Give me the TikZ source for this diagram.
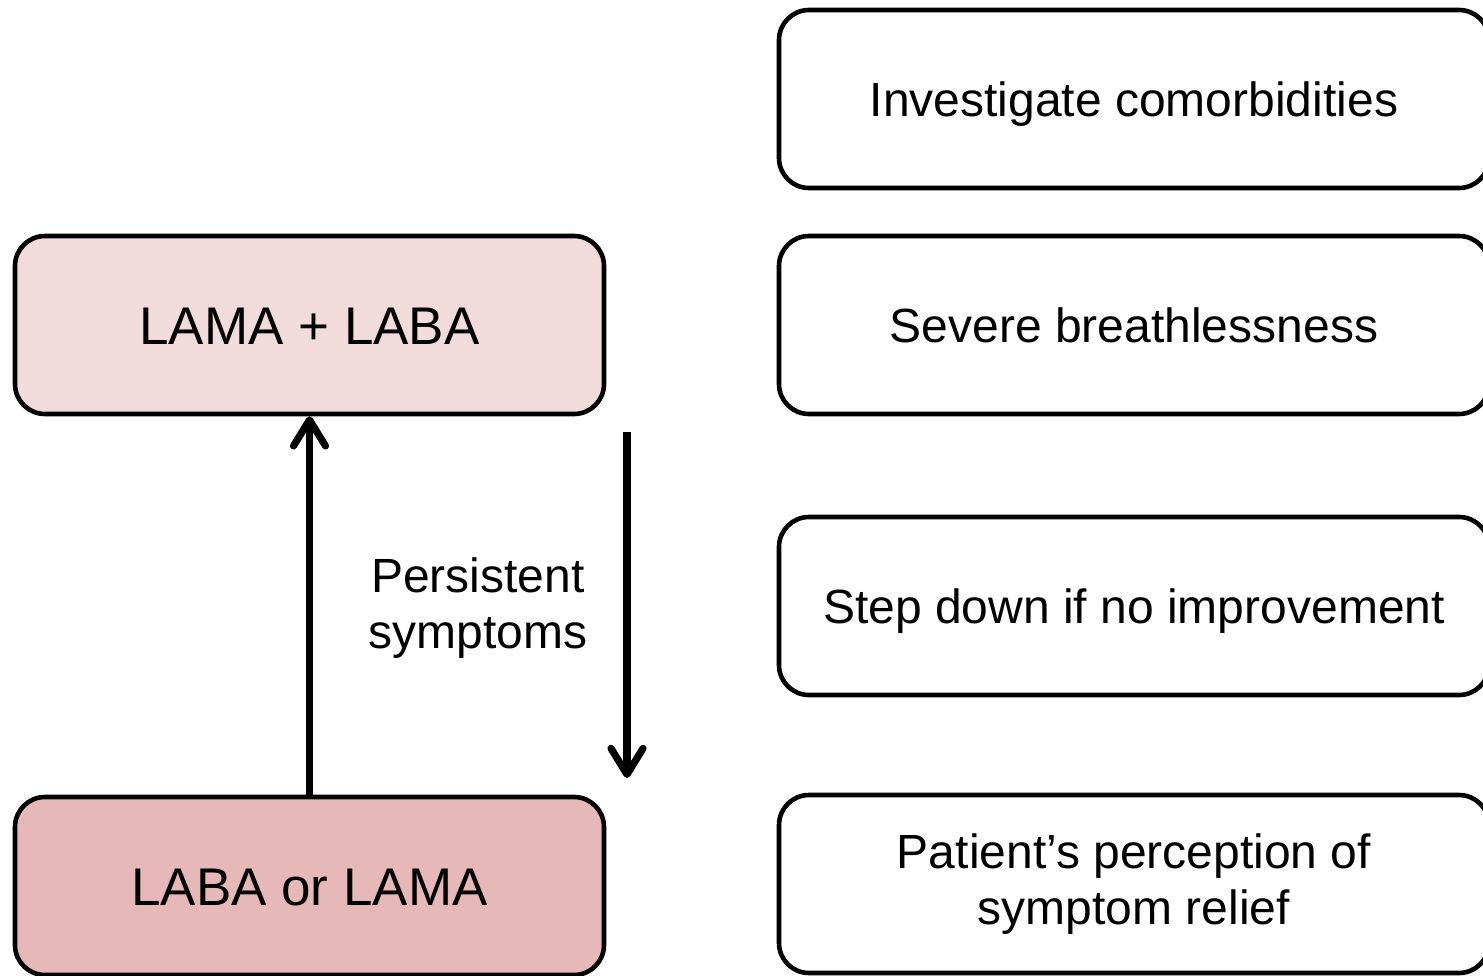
\documentclass[tikz,border=0pt]{standalone}
\usepackage{fontspec}
\setmainfont{Liberation Sans}
\usetikzlibrary{arrows.meta}
\definecolor{pinklight}{HTML}{F2DCDB}
\definecolor{pinkmid}{HTML}{E6B9B8}
\tikzset{
  leftbox/.style={draw=black, line width=2.3pt, rounded corners=15pt, minimum width=294.5pt, minimum height=89pt, inner sep=0pt, font=\fontsize{26.5pt}{31pt}\selectfont, text height=19pt, text depth=0pt},
  rightbox/.style={draw=black, line width=2.3pt, rounded corners=15pt, minimum width=355pt, minimum height=89pt, inner sep=0pt, font=\fontsize{24pt}{28pt}\selectfont, fill=white},
  oneline/.style={text height=17.2pt, text depth=0pt},
  flowarrow/.style={line width=3.6pt, -{Straight Barb[length=13pt,width=16pt,round]}},
  lbl/.style={font=\fontsize{24pt}{28pt}\selectfont, align=center, inner sep=0pt}
}
\begin{document}
\begin{tikzpicture}[x=0.5pt,y=-0.5pt]
\useasboundingbox[fill=white] (0,0) rectangle (1483,975);
\node[leftbox, fill=pinklight] (lamalaba) at (309.5,325) {LAMA + LABA};
\node[leftbox, fill=pinkmid] (labalama) at (309.5,886) {LABA or LAMA};
\node[rightbox, oneline] (inv) at (1134,99) {Investigate comorbidities};
\node[rightbox, oneline] (sev) at (1134,325) {Severe breathlessness};
\node[rightbox, oneline] (stepdn) at (1134,606) {Step down if no improvement};
\node[rightbox, align=center] (pat) at (1134,884) {Patient’s perception of\\symptom relief};
\coordinate (dtop) at (627,432);
\coordinate (dbot) at (627,778);
\draw[flowarrow] (labalama.north) -- (lamalaba.south);
\draw[flowarrow] (dtop) -- (dbot);
\node[lbl] (persist) at (478,608) {Persistent\\symptoms};
\end{tikzpicture}
\end{document}
